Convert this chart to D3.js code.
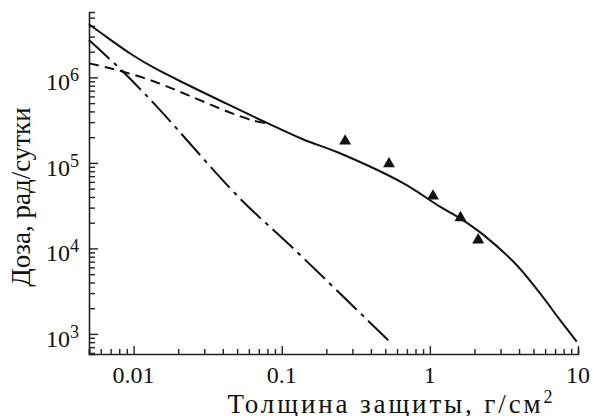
<!DOCTYPE html>
<html><head><meta charset="utf-8">
<script src="https://cdn.jsdelivr.net/npm/d3@7"></script>
<style>body{margin:0;background:#fff}svg{display:block}
text{font-family:"Liberation Serif","Times New Roman",Times,"DejaVu Serif",serif;fill:#111}</style>
</head><body>
<svg id="c" width="594" height="416"></svg>
<script>
// Data
const solidX = [0.005, 0.0067, 0.0096, 0.0139, 0.0233, 0.0389, 0.0807, 0.14, 0.236, 0.66, 1.17, 1.6, 2.3, 3.85, 5.53, 7.55, 9.8];
const solidY = [4.18e6, 2.9e6, 1.88e6, 1.28e6, 8.15e5, 5.3e5, 2.9e5, 1.88e5, 1.34e5, 5.8e4, 3.08e4, 2.25e4, 1.44e4, 6.4e3, 2.99e3, 1.46e3, 811];
const dashX = [0.005, 0.0067, 0.0092, 0.0139, 0.0233, 0.0433, 0.0657, 0.08];
const dashY = [1.46e6, 1.30e6, 1.12e6, 8.9e5, 6.2e5, 3.97e5, 3.09e5, 2.9e5];
const dashDotX = [0.005, 0.00826, 0.0139, 0.0522, 0.1197, 0.538];
const dashDotY = [2.74e6, 1.22e6, 4.84e5, 3.85e4, 1.0e4, 804];
const triX = [0.268, 0.53, 1.05, 1.61, 2.12];
const triY = [1.85e5, 1.0e5, 4.2e4, 2.35e4, 1.29e4];
const xTickVals = [0.01, 0.1, 1, 10];
const xTickLabels = ["0.01", "0.1", "1", "10"];
const yTickVals = [1e3, 1e4, 1e5, 1e6];
const yTickExp = ["3", "4", "5", "6"];
const xTitle = "Толщина защиты, г/см";
const xTitleSup = "2";
const yTitle = "Доза, рад/сутки";

const svg = d3.select("#c");
const L = 89, R = 578, T = 12, B = 354;
const x = d3.scaleLog().domain([0.005, 10]).range([L, R]);
const y = d3.scaleLog().domain([Math.pow(10, 2.765), Math.pow(10, 6.765)]).range([B, T]);

function minors(lo, hi) {
  const out = [];
  for (let e = Math.floor(Math.log10(lo)); e <= Math.ceil(Math.log10(hi)); e++) {
    for (let m = 2; m <= 9; m++) {
      const v = m * Math.pow(10, e);
      if (v >= lo * 0.999 && v <= hi * 1.001) out.push(v);
    }
  }
  return out;
}

// axes
const gx = svg.append("g").attr("transform", `translate(0,${B})`);
gx.call(d3.axisBottom(x).tickValues(minors(0.005, 10)).tickSize(-5).tickFormat(""));
gx.call(g => g.append("g").call(d3.axisBottom(x).tickValues(xTickVals).tickSize(-8).tickFormat("")));
const gy = svg.append("g").attr("transform", `translate(${L},0)`);
gy.call(d3.axisLeft(y).tickValues(minors(y.domain()[0], y.domain()[1])).tickSize(-6).tickFormat(""));
gy.call(g => g.append("g").call(d3.axisLeft(y).tickValues(yTickVals).tickSize(-9).tickFormat("")));
svg.selectAll(".domain").attr("stroke", "#222").attr("stroke-width", 1.6);
svg.selectAll(".tick line").attr("stroke", "#222").attr("stroke-width", 1.4);
svg.selectAll("g > g > .domain").remove();

// x tick labels
svg.append("g").selectAll("text").data(xTickVals).join("text")
  .attr("x", d => x(d)).attr("y", 383)
  .attr("text-anchor", "middle").attr("font-size", 24)
  .text((d, i) => xTickLabels[i]);

// y tick labels
const yl = svg.append("g").selectAll("text").data(yTickVals).join("text")
  .attr("x", 79).attr("y", d => y(d) + 13)
  .attr("text-anchor", "end").attr("font-size", 24);
yl.append("tspan").text("10");
yl.append("tspan").attr("dy", -9).attr("font-size", 18).text((d, i) => yTickExp[i]);

// titles
const xt = svg.append("text").attr("x", 390).attr("y", 413).attr("text-anchor", "middle")
  .attr("font-size", 27).attr("textLength", 325).attr("lengthAdjust", "spacing");
xt.append("tspan").text(xTitle);
xt.append("tspan").attr("dy", -10).attr("font-size", 18).text(xTitleSup);
svg.append("text").attr("transform", `translate(30,197) rotate(-90)`).attr("text-anchor", "middle")
  .attr("font-size", 27).text(yTitle);

// lines
const line = d3.line().x(d => x(d[0])).y(d => y(d[1])).curve(d3.curveCatmullRom.alpha(0.5));
const zip = (a, b) => a.map((v, i) => [v, b[i]]);
svg.append("path").datum(zip(solidX, solidY)).attr("d", line)
  .attr("fill", "none").attr("stroke", "#111").attr("stroke-width", 2);
svg.append("path").datum(zip(dashX, dashY)).attr("d", line)
  .attr("fill", "none").attr("stroke", "#111").attr("stroke-width", 2).attr("stroke-dasharray", "10,6");
svg.append("path").datum(zip(dashDotX, dashDotY)).attr("d", line)
  .attr("fill", "none").attr("stroke", "#111").attr("stroke-width", 2).attr("stroke-dasharray", "28,6,4,6");

// triangles
svg.append("g").selectAll("path").data(zip(triX, triY)).join("path")
  .attr("transform", d => `translate(${x(d[0])},${y(d[1]) + 1})`)
  .attr("d", d3.symbol().type(d3.symbolTriangle).size(62))
  .attr("fill", "#111");
</script>
</body></html>
